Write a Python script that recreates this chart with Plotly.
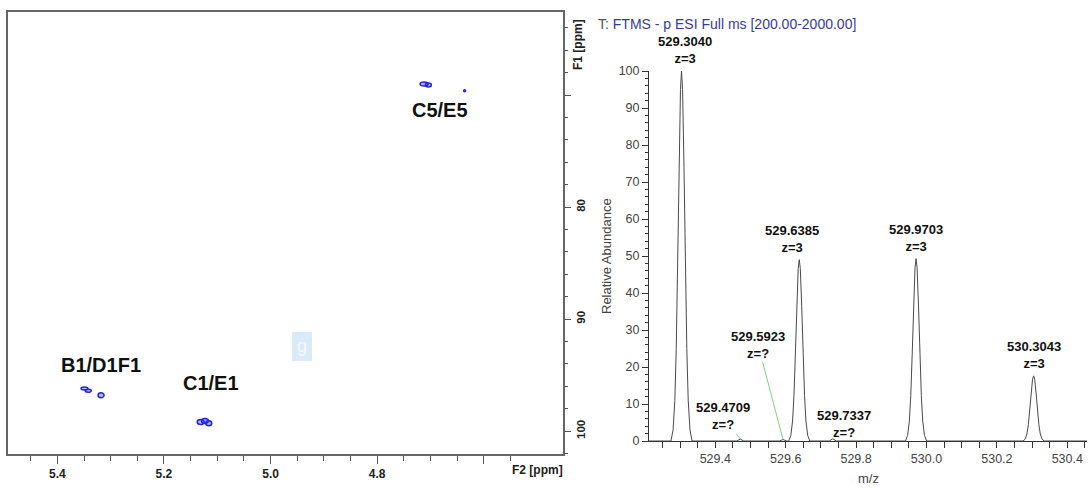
import plotly.graph_objects as go

W, H = 1089, 490
FONT = "Liberation Sans, Arial, sans-serif"
NARROW = "Liberation Sans Narrow, Liberation Sans, Arial, sans-serif"


def px(x):
    return x / W


def py(y):
    return 1 - y / H


# ---------------- 2D NMR (HSQC) cross peaks ----------------
nmr_f2 = [5.349, 5.342, 5.318, 5.131, 5.123, 5.116, 4.712, 4.704, 4.636]
nmr_f1 = [96.2, 96.4, 96.8, 99.2, 99.1, 99.3, 69.0, 69.1, 69.6]
# contour ring sizes in pixels (width, height)
ring_w = [7, 6, 6, 7, 7, 6, 8, 6, 2]
ring_h = [3, 3, 5, 5, 5, 5, 4, 4, 2]

nmr_labels = ["B1/D1F1", "C1/E1", "C5/E5"]
nmr_label_f2 = [5.318, 5.112, 4.683]
nmr_label_f1 = [94.1, 95.7, 71.3]

f2_major = [5.4, 5.2, 5.0, 4.8, 4.6]
f2_major_text = ["5.4", "5.2", "5.0", "4.8", ""]
f2_minor = [5.45, 5.35, 5.30, 5.25, 5.15, 5.10, 5.05, 4.95, 4.90, 4.85,
            4.75, 4.70, 4.65, 4.55]
f1_major = [70, 80, 90, 100]
f1_major_text = ["", "80", "90", "100"]

# ---------------- Mass spectrum (profile) ----------------
spec_mz = [529.2116,
           529.274, 529.280, 529.285, 529.289, 529.293, 529.297, 529.301, 529.304,
           529.307, 529.311, 529.315, 529.319, 529.323, 529.328, 529.334,
           529.4609, 529.4709, 529.4809,
           529.5823, 529.5923, 529.6023,
           529.6085, 529.6145, 529.6195, 529.6235, 529.6275, 529.6315, 529.6355, 529.6385,
           529.6415, 529.6455, 529.6495, 529.6535, 529.6575, 529.6625, 529.6685,
           529.7237, 529.7337, 529.7437,
           529.9403, 529.9463, 529.9513, 529.9553, 529.9593, 529.9633, 529.9673, 529.9703,
           529.9733, 529.9773, 529.9813, 529.9853, 529.9893, 529.9943, 530.0003,
           530.2743, 530.2803, 530.2853, 530.2893, 530.2933, 530.2973, 530.3013, 530.3043,
           530.3073, 530.3113, 530.3153, 530.3193, 530.3233, 530.3283, 530.3343,
           530.456]
spec_int = [0,
            0, 3, 11, 25, 47, 74, 95, 100,
            95, 74, 47, 25, 11, 3, 0,
            0, 0.5, 0,
            0, 0.4, 0,
            0, 1.5, 5.4, 12.3, 23.0, 36.3, 46.6, 49.0,
            46.6, 36.3, 23.0, 12.3, 5.4, 1.5, 0,
            0, 0.6, 0,
            0, 1.5, 5.4, 12.3, 23.2, 36.5, 46.8, 49.3,
            46.8, 36.5, 23.2, 12.3, 5.4, 1.5, 0,
            0, 0.5, 1.9, 4.4, 8.3, 13.0, 16.7, 17.6,
            16.7, 13.0, 8.3, 4.4, 1.9, 0.5, 0,
            0]

# labelled isotope peaks (charge assigned)
iso_mz = [529.3040, 529.6385, 529.9703, 530.3043]
iso_int = [100, 49.0, 49.3, 17.6]
iso_z = ["3", "3", "3", "3"]
iso_dx = [3, -7, 0, 0]

# weak peaks with unassigned charge (labels offset with leader lines)
weak_mz = [529.4709, 529.5923, 529.7337]
weak_int = [0.5, 0.4, 0.6]
weak_ax = [-17, -25, 11]
weak_ay = [-23, -95, -15]

fig = go.Figure()

# invisible anchor trace for the NMR axes
fig.add_trace(go.Scatter(x=nmr_f2, y=nmr_f1, xaxis="x", yaxis="y", mode="markers",
                         marker=dict(size=1, color="rgba(0,0,0,0)"), hoverinfo="skip"))

fig.add_trace(go.Scatter(x=spec_mz, y=spec_int, xaxis="x2", yaxis="y2", mode="lines",
                         line=dict(color="#4a4a4a", width=1), cliponaxis=False,
                         hoverinfo="skip"))

shapes = []
for f2, f1, w, h in zip(nmr_f2, nmr_f1, ring_w, ring_h):
    shapes.append(dict(type="circle", xref="x", yref="y",
                       xsizemode="pixel", ysizemode="pixel",
                       xanchor=f2, yanchor=f1,
                       x0=-w / 2, x1=w / 2, y0=-h / 2, y1=h / 2,
                       line=dict(color="#2424e0", width=1.5),
                       fillcolor="rgba(36,36,224,0.35)"))

# small light badge inside the NMR panel
shapes.append(dict(type="rect", xref="paper", yref="paper",
                   x0=px(292), x1=px(312), y0=py(361), y1=py(332),
                   line=dict(width=0), fillcolor="#dbeaf8", layer="below"))

annotations = []
for t, f2, f1 in zip(nmr_labels, nmr_label_f2, nmr_label_f1):
    annotations.append(dict(x=f2, y=f1, xref="x", yref="y", text=t, showarrow=False,
                            font=dict(family=FONT, size=20, color="#111111", weight="bold")))


def paper_text(x, y, text, font, **kw):
    d = dict(x=px(x), y=py(y), xref="paper", yref="paper", text=text,
             showarrow=False, yanchor="middle", font=font)
    d.setdefault("xanchor", "center")
    d.update(kw)
    return d


annotations.append(paper_text(302, 346, "g", dict(family=FONT, size=18, color="#f5f9fe")))
annotations.append(paper_text(537, 470, "F2 [ppm]",
                              dict(family=NARROW, size=12, color="#222222", weight="bold")))
annotations.append(paper_text(578, 45, "F1 [ppm]",
                              dict(family=FONT, size=12, color="#222222", weight="bold"),
                              textangle=-90))

for mz, val, z, dx in zip(iso_mz, iso_int, iso_z, iso_dx):
    annotations.append(dict(x=mz, y=val, xref="x2", yref="y2",
                            text=f"{mz:.4f}<br>z={z}", showarrow=False,
                            yanchor="bottom", yshift=3, xshift=dx,
                            font=dict(family=FONT, size=13, color="#111111", weight="bold")))

for mz, val, ax, ay in zip(weak_mz, weak_int, weak_ax, weak_ay):
    annotations.append(dict(x=mz, y=val, xref="x2", yref="y2",
                            text=f"{mz:.4f}<br>z=?", showarrow=True,
                            arrowhead=0, arrowwidth=1, arrowcolor="#86d086",
                            ax=ax, ay=ay,
                            font=dict(family=FONT, size=13, color="#111111", weight="bold")))

annotations.append(paper_text(596, 24,
                              "<span style='color:#555555'>T:</span> FTMS - p ESI Full ms [200.00-2000.00]",
                              dict(family=FONT, size=14, color="#3a3a9c"), xanchor="left"))
annotations.append(paper_text(868, 478, "m/z", dict(family=FONT, size=13, color="#444444")))
annotations.append(paper_text(606, 256, "Relative Abundance",
                              dict(family=FONT, size=13, color="#444444"), textangle=-90))

fig.update_layout(
    width=W, height=H,
    margin=dict(l=0, r=0, t=0, b=0),
    paper_bgcolor="white", plot_bgcolor="white",
    showlegend=False,
    shapes=shapes,
    annotations=annotations,
    xaxis=dict(domain=[px(8.3), px(562.7)], range=[5.492, 4.452], anchor="y",
               automargin=False,
               showline=True, linecolor="#666666", linewidth=1.5, mirror=True,
               showgrid=False, zeroline=False,
               tickmode="array", tickvals=f2_major, ticktext=f2_major_text,
               ticks="outside", ticklen=8, tickcolor="#555555", tickwidth=1,
               tickfont=dict(family=NARROW, size=12, color="#222222", weight="bold"),
               minor=dict(tickmode="array", tickvals=f2_minor, ticks="outside",
                          ticklen=5, tickcolor="#555555")),
    yaxis=dict(domain=[py(454), py(12.3)], range=[102.05, 62.6], anchor="x", side="right",
               automargin=False,
               showline=True, linecolor="#666666", linewidth=1.5, mirror=True,
               showgrid=False, zeroline=False,
               tickmode="array", tickvals=f1_major, ticktext=f1_major_text,
               ticks="outside", ticklen=7, tickcolor="#555555", tickangle=-90,
               tickfont=dict(family=FONT, size=11.5, color="#222222", weight="bold"),
               minor=dict(dtick=2, tick0=0, ticks="outside", ticklen=4, tickcolor="#555555")),
    xaxis2=dict(domain=[px(649), px(1087)], range=[529.2116, 530.456], anchor="y2",
                automargin=False,
                showline=True, linecolor="#333333", linewidth=1,
                showgrid=False, zeroline=False,
                tick0=529.4, dtick=0.2, tickformat=".1f",
                ticks="outside", ticklen=6, tickcolor="#333333",
                tickfont=dict(family=FONT, size=12.5, color="#444444"),
                minor=dict(dtick=0.05, ticks="outside", ticklen=6, tickcolor="#333333")),
    yaxis2=dict(domain=[py(441), py(71)], range=[0, 100], anchor="x2",
                automargin=False,
                showline=True, linecolor="#333333", linewidth=1,
                showgrid=False, zeroline=False,
                tick0=0, dtick=10,
                ticks="outside", ticklen=6, tickcolor="#333333",
                tickfont=dict(family=FONT, size=12.5, color="#444444"),
                minor=dict(dtick=2, ticks="outside", ticklen=3, tickcolor="#333333")),
)

fig.write_html("out.html")
